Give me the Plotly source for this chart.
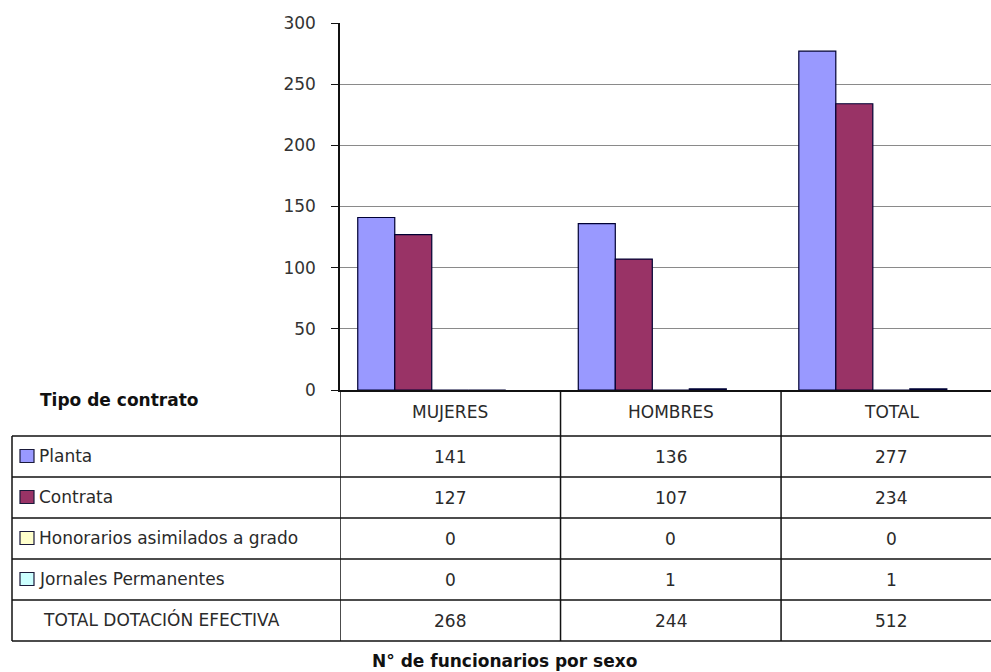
import plotly.graph_objects as go

# Data
categories = ["MUJERES", "HOMBRES", "TOTAL"]
series_names = ["Planta", "Contrata", "Honorarios asimilados a grado",
                "Jornales Permanentes", "TOTAL DOTACIÓN EFECTIVA"]
planta = [141, 136, 277]
contrata = [127, 107, 234]
honorarios = [0, 0, 0]
jornales = [0, 1, 1]
total_dotacion = [268, 244, 512]
y_ticks = [0, 50, 100, 150, 200, 250, 300]

series_values = [planta, contrata, honorarios, jornales, total_dotacion]
series_colors = ["#9999FF", "#993366", "#FFFFCC", "#CCFFFF", "rgba(0,0,0,0)"]

W, H = 991, 672
FONT = "DejaVu Sans"
TEXT = "#2a2a2a"
FS = 17


def py(px):
    """Pixel row (from top) to paper y."""
    return 1 - px / H


fig = go.Figure()
for name, vals, col in zip(series_names, series_values, series_colors):
    drawn = col != "rgba(0,0,0,0)"
    fig.add_trace(go.Bar(
        x=categories, y=vals, name=name,
        marker=dict(color=col,
                    line=dict(color="#000033" if drawn else "rgba(0,0,0,0)",
                              width=1.2)),
        hoverinfo="x+y+name" if drawn else "skip",
        cliponaxis=True,
    ))

axis_bottom, axis_top = 390, 23
fig.update_layout(
    width=W, height=H,
    margin=dict(l=0, r=0, t=0, b=0, autoexpand=False),
    paper_bgcolor="white", plot_bgcolor="white",
    barmode="group", bargap=0.161, bargroupgap=0,
    showlegend=False,
    font=dict(family=FONT, color=TEXT),
    xaxis=dict(domain=[340 / W, 1], range=[-0.5, 2.452], type="category",
               automargin=False,
               showticklabels=False, showgrid=False, zeroline=False,
               showline=True, linecolor="#111", linewidth=1.5, ticks=""),
    yaxis=dict(domain=[py(axis_bottom), py(axis_top)], range=[0, 300],
               automargin=False,
               tickvals=y_ticks, ticks="outside", ticklen=7, tickcolor="#111",
               tickwidth=1, ticklabelstandoff=12,
               tickfont=dict(family=FONT, size=FS, color="#333"),
               showgrid=True, gridcolor="#8a8a8a", gridwidth=1,
               zeroline=False, showline=True, linecolor="#111", linewidth=1.5),
)

# Data table beneath the chart
row_lines = [436, 477, 518, 559, 600, 641]
header_center = 412
row_centers = [(a + b) / 2 for a, b in zip(row_lines[:-1], row_lines[1:])]
line_style = dict(color="#111", width=1.5)

shapes = []
for yl in row_lines:
    shapes.append(dict(type="line", xref="paper", yref="paper",
                       x0=12 / W, x1=1, y0=py(yl), y1=py(yl), line=line_style))
shapes.append(dict(type="line", xref="paper", yref="paper",
                   x0=12 / W, x1=12 / W, y0=py(row_lines[0]), y1=py(row_lines[-1]),
                   line=line_style))
for xb in [-0.5, 0.5, 1.5]:
    shapes.append(dict(type="line", xref="x", yref="paper",
                       x0=xb, x1=xb, y0=py(axis_bottom), y1=py(row_lines[-1]),
                       line=line_style))

annotations = []
# Column headers
for cat in categories:
    annotations.append(dict(x=cat, xref="x", y=py(header_center), yref="paper",
                            text=cat, showarrow=False, xanchor="center", yanchor="middle",
                            font=dict(family=FONT, size=FS, color=TEXT)))
# Row labels with legend keys, and cell values
for i, (name, vals, col) in enumerate(zip(series_names, series_values, series_colors)):
    yc = row_centers[i]
    if col != "rgba(0,0,0,0)":
        shapes.append(dict(type="rect", xref="paper", yref="paper",
                           x0=20 / W, x1=34 / W, y0=py(yc + 6), y1=py(yc - 7),
                           fillcolor=col, line=dict(color="#1a1a3a", width=1.2)))
        lx = 37
    else:
        lx = 41
    annotations.append(dict(x=lx / W, xref="paper", y=py(yc - 1), yref="paper",
                            text=name, showarrow=False, xanchor="left", yanchor="middle",
                            font=dict(family=FONT, size=FS, color=TEXT)))
    for cat, v in zip(categories, vals):
        annotations.append(dict(x=cat, xref="x", y=py(yc), yref="paper",
                                text=str(v), showarrow=False, xanchor="center",
                                yanchor="middle",
                                font=dict(family=FONT, size=FS, color=TEXT)))

annotations.append(dict(x=38 / W, xref="paper", y=py(400), yref="paper",
                        text="<b>Tipo de contrato</b>", showarrow=False,
                        xanchor="left", yanchor="middle",
                        font=dict(family=FONT, size=17, color="#111")))
annotations.append(dict(x=504 / W, xref="paper", y=py(661), yref="paper",
                        text="<b>N° de funcionarios por sexo</b>", showarrow=False,
                        xanchor="center", yanchor="middle",
                        font=dict(family=FONT, size=17, color="#111")))

fig.update_layout(shapes=shapes, annotations=annotations)
fig.write_html("out.html")
